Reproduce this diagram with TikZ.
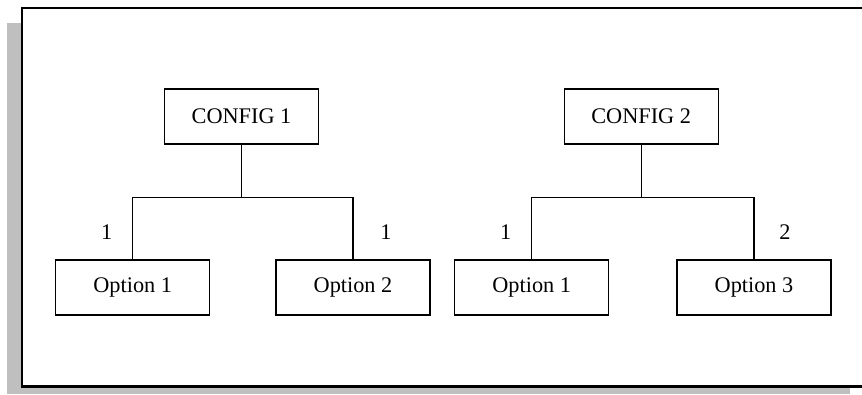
\documentclass[tikz,border=0pt]{standalone}
\usepackage{fontspec}
\setmainfont{Liberation Serif}
\begin{document}
\begin{tikzpicture}[x=1pt,y=-1pt,
  cfgbox/.style={draw,line width=1.1pt,minimum width=154pt,minimum height=55pt,
    inner sep=0pt,font=\fontsize{22.3}{26}\selectfont},
  wire/.style={line width=1.1pt},
  qty/.style={font=\fontsize{22.3}{26}\selectfont}]
  \colorlet{shade0}{black!25}
  \useasboundingbox (0,0) rectangle (862,394);
  \clip (0,0) rectangle (862,394);

  % frame and its shadow
  \fill[shade0] (7,23) rectangle (850,394);
  \draw[fill=white,line width=2.4pt] (22.2,7.8) rectangle (866,386.3);

  % the two configurations
  \node[cfgbox] (cfg1) at (241.5,116.5) {CONFIG 1};
  \node[cfgbox] (cfg2) at (641.2,116.5) {CONFIG 2};

  % their options
  \node[cfgbox] (o11) at (132.7,287.5) {Option 1};
  \node[cfgbox] (o12) at (353,287.5) {Option 2};
  \node[cfgbox] (o21) at (531.7,287.5) {Option 1};
  \node[cfgbox] (o23) at (754,287.5) {Option 3};

  % tree connectors
  \foreach \c/\j/\a/\b in {cfg1/j1/o11/o12,cfg2/j2/o21/o23}{
    \path (\c.south) ++(0,52.7) coordinate (\j);
    \draw[wire] (\c.south) -- (\j);
    \draw[wire] (\j) -| (\a.north);
    \draw[wire] (\j) -| (\b.north);}

  % quantities
  \node[qty] (q11) at (106.7,231.7) {1};
  \node[qty] (q12) at (386,231.7) {1};
  \node[qty] (q21) at (505.7,231.7) {1};
  \node[qty] (q23) at (785,231.7) {2};
\end{tikzpicture}
\end{document}
